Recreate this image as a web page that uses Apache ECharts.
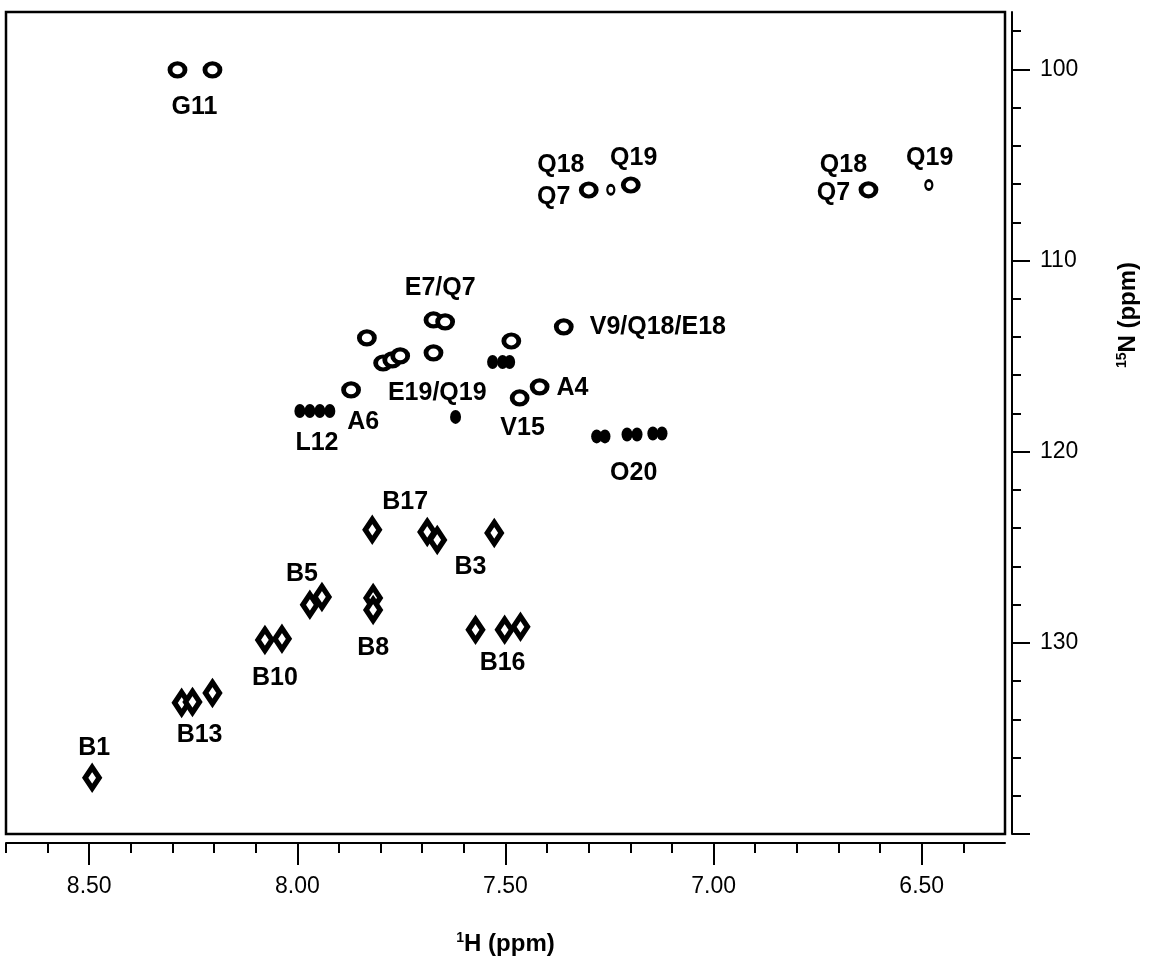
<!DOCTYPE html>
<html>
<head>
<meta charset="utf-8">
<script src="https://cdn.jsdelivr.net/npm/echarts@6/dist/echarts.min.js"></script>
<style>
  html, body { margin: 0; padding: 0; background: #fff; }
  #main { width: 1151px; height: 969px; }
</style>
</head>
<body>
<div id="main"></div>
<script>
// peaks as [1H ppm, 15N ppm]
const ringPeaks = [
  [8.288, 100.03], [8.204, 100.03],
  [7.300, 106.31], [7.199, 106.05], [6.628, 106.30],
  [7.673, 113.11], [7.645, 113.21], [7.360, 113.47],
  [7.833, 114.05], [7.794, 115.36], [7.772, 115.20], [7.753, 114.99],
  [7.673, 114.83], [7.486, 114.21],
  [7.871, 116.77], [7.418, 116.61], [7.466, 117.19]
]
const smallPeaks = [[7.247, 106.30], [6.483, 106.05]]
const blobPeaks = [
  [7.531, 115.31], [7.507, 115.31], [7.490, 115.31],
  [7.994, 117.87], [7.970, 117.87], [7.946, 117.87], [7.922, 117.87],
  [7.620, 118.18],
  [7.281, 119.20], [7.261, 119.20], [7.208, 119.10], [7.184, 119.10],
  [7.146, 119.05], [7.124, 119.05]
]
const diamondPeaks = [
  [7.820, 124.09], [7.688, 124.20], [7.664, 124.62], [7.527, 124.25],
  [7.970, 128.01], [7.941, 127.60],
  [7.818, 127.65], [7.818, 128.28],
  [8.078, 129.85], [8.037, 129.79],
  [7.572, 129.32], [7.502, 129.32], [7.464, 129.16],
  [8.278, 133.14], [8.252, 133.09], [8.204, 132.62],
  [8.493, 137.06]
]
// assignment labels: [text, 1H, 15N]
const peakLabels = [
  ['G11', 8.247, 101.97],
  ['Q18', 7.367, 105.0], ['Q19', 7.192, 104.64], ['Q7', 7.384, 106.68],
  ['Q18', 6.688, 105.0], ['Q19', 6.481, 104.64], ['Q7', 6.712, 106.47],
  ['E7/Q7', 7.657, 111.43],
  ['V9/Q18/E18', 7.134, 113.47],
  ['E19/Q19', 7.664, 116.93],
  ['A6', 7.842, 118.44], ['L12', 7.953, 119.54], ['V15', 7.459, 118.76], ['A4', 7.339, 116.67],
  ['O20', 7.192, 121.11],
  ['B17', 7.741, 122.63], ['B3', 7.584, 126.03], ['B5', 7.989, 126.39], ['B8', 7.818, 130.26],
  ['B10', 8.054, 131.83], ['B16', 7.507, 131.05], ['B13', 8.235, 134.81], ['B1', 8.488, 135.49]
]
// axis ticks
const hMajor = [6.5, 7.0, 7.5, 8.0, 8.5]
const hMinor = [6.4, 6.6, 6.7, 6.8, 6.9, 7.1, 7.2, 7.3, 7.4, 7.6, 7.7, 7.8, 7.9, 8.1, 8.2, 8.3, 8.4, 8.6, 8.7]
const nMajor = [100, 110, 120, 130, 140]
const nLabels = [100, 110, 120, 130]
const nMinor = [98, 102, 104, 106, 108, 112, 114, 116, 118, 122, 124, 126, 128, 132, 134, 136, 138]

const font = 'Liberation Sans, Arial, sans-serif'
const chart = echarts.init(document.getElementById('main'))

const xBase = { type: 'value', gridIndex: 0, min: 6.3, max: 8.7, inverse: true, position: 'bottom', offset: 9, splitLine: { show: false } }
const yBase = { type: 'value', gridIndex: 0, min: 97, max: 140, inverse: true, position: 'right', offset: 7, splitLine: { show: false } }

chart.setOption({
  animation: false,
  grid: {
    left: 6, right: 146, top: 12, bottom: 135,
    show: true, borderColor: '#000', borderWidth: 2.5
  },
  xAxis: [
    Object.assign({}, xBase, {
      axisLine: { show: true, lineStyle: { color: '#000', width: 2 } },
      axisTick: { show: true, customValues: hMajor, length: 22, lineStyle: { color: '#000', width: 2 } },
      axisLabel: {
        customValues: hMajor, margin: 32, color: '#000', fontSize: 23, fontFamily: font,
        formatter: v => v.toFixed(2)
      },
      name: '{sup|1}{b|H (ppm)}',
      nameLocation: 'middle',
      nameGap: 88,
      nameTextStyle: {
        rich: {
          sup: { fontSize: 14, fontWeight: 'bold', fontFamily: font, color: '#000', verticalAlign: 'top', lineHeight: 26 },
          b: { fontSize: 24, fontWeight: 'bold', fontFamily: font, color: '#000', lineHeight: 26 }
        }
      }
    }),
    Object.assign({}, xBase, {
      axisLine: { show: false },
      axisTick: { show: true, customValues: hMinor, length: 10, lineStyle: { color: '#000', width: 2 } },
      axisLabel: { show: false }
    })
  ],
  yAxis: [
    Object.assign({}, yBase, {
      axisLine: { show: true, lineStyle: { color: '#000', width: 2 } },
      axisTick: { show: true, customValues: nMajor, length: 18, lineStyle: { color: '#000', width: 2 } },
      axisLabel: { customValues: nLabels, margin: 28, color: '#000', fontSize: 23, fontFamily: font }
    }),
    Object.assign({}, yBase, {
      axisLine: { show: false },
      axisTick: { show: true, customValues: nMinor, length: 9, lineStyle: { color: '#000', width: 2 } },
      axisLabel: { show: false }
    })
  ],
  graphic: [{
    type: 'text',
    x: 1128, y: 315,
    rotation: Math.PI / 2,
    style: {
      text: '{sup|15}{b|N (ppm)}',
      align: 'center', verticalAlign: 'middle',
      rich: {
        sup: { fontSize: 14, fontWeight: 'bold', fontFamily: font, fill: '#000', verticalAlign: 'top', lineHeight: 26 },
        b: { fontSize: 24, fontWeight: 'bold', fontFamily: font, fill: '#000', lineHeight: 26 }
      }
    }
  }],
  series: [
    {
      type: 'scatter', data: ringPeaks, symbol: 'circle', symbolSize: [15, 13],
      itemStyle: { color: '#fff', borderColor: '#000', borderWidth: 4.5, opacity: 1 }, silent: true
    },
    {
      type: 'scatter', data: smallPeaks, symbol: 'circle', symbolSize: [7, 9],
      itemStyle: { color: '#fff', borderColor: '#000', borderWidth: 2.5, opacity: 1 }, silent: true
    },
    {
      type: 'scatter', data: blobPeaks, symbol: 'circle', symbolSize: [11, 14],
      itemStyle: { color: '#000', opacity: 1 }, silent: true
    },
    {
      type: 'scatter', data: diamondPeaks, symbol: 'diamond', symbolSize: [14, 21],
      itemStyle: { color: '#fff', borderColor: '#000', borderWidth: 5.5, opacity: 1 }, silent: true
    },
    {
      type: 'scatter',
      data: peakLabels.map(d => ({ value: [d[1], d[2]], name: d[0] })),
      symbolSize: 1,
      itemStyle: { color: 'rgba(0,0,0,0)', opacity: 1 },
      silent: true,
      label: {
        show: true, position: 'inside', formatter: p => p.name,
        color: '#000', fontSize: 25, fontWeight: 'bold', fontFamily: font
      },
      labelLayout: { hideOverlap: false }
    }
  ]
})
</script>
</body>
</html>
